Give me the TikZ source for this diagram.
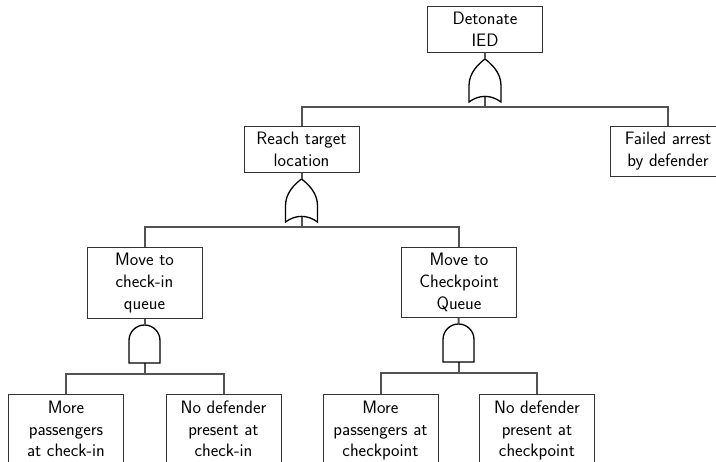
\documentclass[tikz,border=0pt]{standalone}
\usepackage{fontspec}
\usepackage{tikz}
\usetikzlibrary{positioning, calc}

\tikzset{
  event/.style={draw=black!80, line width=1pt, fill=white, minimum width=115pt,
    inner xsep=4pt, inner ysep=6pt, align=center, anchor=north,
    font=\sffamily\fontsize{18}{21.6}\selectfont},
  link/.style={draw=black!68, line width=2pt},
  gateline/.style={draw=black, line width=1.3pt, fill=white},
  orgate/.pic={
    \draw[link] (0,16) -- (0,27);
    \draw[gateline] (-16,21.5) -- (-16,5) .. controls (-16,-8) and (-6,-17) .. (0,-21.5)
      .. controls (6,-17) and (16,-8) .. (16,5) -- (16,21.5)
      .. controls (6,14) and (-6,14) .. cycle;
    \coordinate (-in) at (0,-21.5);
    \coordinate (-bar) at (0,27);
  },
  andgate/.pic={
    \draw[link] (0,19) -- (0,30);
    \draw[gateline] (-15.5,19) -- (-15.5,-3.5) .. controls (-15.5,-12.06) and (-8.56,-19) .. (0,-19)
      .. controls (8.56,-19) and (15.5,-12.06) .. (15.5,-3.5) -- (15.5,19) -- cycle;
    \coordinate (-in) at (0,-19);
    \coordinate (-bar) at (0,30);
  }
}

\begin{document}
\begin{tikzpicture}[x=1pt,y=-1pt]
      \useasboundingbox (0,0) rectangle (716,462);
      % events
      \node[event] (ied) at (485,6) {Detonate\\IED};
      \node[event] (reach) at (301.5,126) {Reach target\\location};
      \node[event] (arrest) at (668,126) {Failed arrest\\by defender};
      \node[event] (checkin) at (144.5,247) {Move to\\check-in\\queue};
      \node[event] (checkpoint) at (459,247) {Move to\\Checkpoint\\Queue};
      \node[event] (morein) at (66,394.5) {More\\passengers\\at check-in};
      \node[event] (nodefin) at (223.5,394.5) {No defender\\present at\\check-in};
      \node[event] (morept) at (380.5,394.5) {More\\passengers at\\checkpoint};
      \node[event] (nodefpt) at (537,394.5) {No defender\\present at\\checkpoint};
      % gates
      \pic (g1) at (485,80.5) {orgate};
      \pic (g2) at (301.5,200.5) {orgate};
      \pic (g3) at (144.5,344) {andgate};
      \pic (g4) at (458.5,343) {andgate};
      % connectors
      \draw[link] (ied) -- (g1-in);
      \draw[link] (reach) |- (g1-bar) -| (arrest);
      \draw[link] (reach) -- (g2-in);
      \draw[link] (checkin) |- (g2-bar) -| (checkpoint);
      \draw[link] (checkin) -- (g3-in);
      \draw[link] (morein) |- (g3-bar) -| (nodefin);
      \draw[link] (checkpoint) -- (g4-in);
      \draw[link] (morept) |- (g4-bar) -| (nodefpt);
\end{tikzpicture}
\end{document}
